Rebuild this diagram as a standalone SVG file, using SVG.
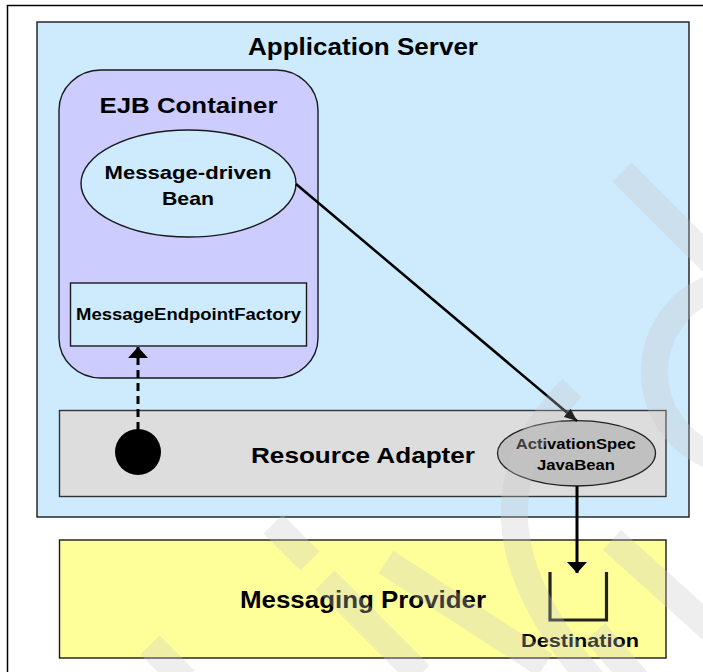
<svg xmlns="http://www.w3.org/2000/svg" width="703" height="672" viewBox="0 0 703 672">
<defs>
<style>
.t{font-family:"Liberation Sans",Arial,sans-serif;font-weight:bold;fill:#000;text-anchor:middle}
.box{stroke:#1a1a1a;stroke-width:1.4}
.wm{fill:none;stroke:#c8c8c8;stroke-opacity:0.3;stroke-width:27}
</style>
<marker id="ah" viewBox="0 0 12 10" refX="12" refY="5" markerWidth="13" markerHeight="11" markerUnits="userSpaceOnUse" orient="auto">
<path d="M0,0 L12,5 L0,10 z" fill="#222"/>
</marker>
<marker id="ah2" viewBox="0 0 11 20" refX="11" refY="10" markerWidth="11" markerHeight="20" markerUnits="userSpaceOnUse" orient="auto">
<path d="M0,0 L11,10 L0,20 z" fill="#000"/>
</marker>
</defs>
<rect x="0" y="0" width="703" height="672" fill="#fff"/>
<rect x="7.5" y="5.5" width="720" height="700" fill="none" stroke="#000" stroke-width="1.5"/>

<g id="app-server">
<rect class="box" x="37" y="22" width="652" height="495" fill="#cdebfd"/>
<text class="t" x="363" y="55" font-size="24.5" textLength="230" lengthAdjust="spacingAndGlyphs">Application Server</text>
</g>

<g id="ejb-container">
<rect class="box" x="59" y="70" width="259" height="308" rx="42" ry="40" fill="#ccccff"/>
<text class="t" x="188.5" y="113" font-size="22.5" textLength="178" lengthAdjust="spacingAndGlyphs">EJB Container</text>
</g>

<g id="mdb">
<ellipse class="box" cx="188.5" cy="183.5" rx="107.5" ry="53.5" fill="#cdebfd"/>
<text class="t" x="188" y="179" font-size="19" textLength="167" lengthAdjust="spacingAndGlyphs">Message-driven</text>
<text class="t" x="188" y="205" font-size="19" textLength="52" lengthAdjust="spacingAndGlyphs">Bean</text>
</g>

<g id="endpoint-factory">
<rect class="box" x="70.5" y="283" width="236" height="63" fill="#cdebfd"/>
<text class="t" x="188.5" y="320" font-size="16" textLength="225" lengthAdjust="spacingAndGlyphs">MessageEndpointFactory</text>
</g>

<g id="resource-adapter">
<rect x="59.5" y="410.5" width="606.5" height="86" fill="#dddddd" stroke="#333" stroke-width="1.4"/>
<text class="t" x="363" y="463" font-size="22.5" textLength="224" lengthAdjust="spacingAndGlyphs">Resource Adapter</text>
</g>

<g id="endpoint-dot">
<circle cx="138" cy="452" r="23" fill="#000"/>
</g>

<g id="activation-spec">
<ellipse cx="576.5" cy="453.3" rx="79" ry="32.7" fill="#c0c0c0" stroke="#222" stroke-width="1.3"/>
<text class="t" x="575.7" y="449.3" font-size="14.5" textLength="120" lengthAdjust="spacingAndGlyphs">ActivationSpec</text>
<text class="t" x="576" y="470" font-size="14.5" textLength="78" lengthAdjust="spacingAndGlyphs">JavaBean</text>
</g>

<g id="messaging-provider">
<rect class="box" x="59.5" y="540" width="606.5" height="118" fill="#ffff99"/>
<text class="t" x="363" y="608" font-size="23.5" textLength="246" lengthAdjust="spacingAndGlyphs">Messaging Provider</text>
</g>

<g id="destination">
<path d="M550,572 V620 H606.5 V572" fill="none" stroke="#222" stroke-width="3.2"/>
<text class="t" x="580" y="647" font-size="18.5" textLength="118" lengthAdjust="spacingAndGlyphs">Destination</text>
</g>

<g id="connectors">
<line x1="138" y1="430" x2="138" y2="347" stroke="#000" stroke-width="3" stroke-dasharray="8,5" marker-end="url(#ah2)"/>
<line x1="296" y1="184" x2="577" y2="421" stroke="#000" stroke-width="2.5" marker-end="url(#ah)"/>
<line x1="577" y1="486" x2="577" y2="573" stroke="#000" stroke-width="3" marker-end="url(#ah2)"/>
</g>

<g id="watermark">
<line class="wm" x1="622" y1="172" x2="712" y2="262"/>
<path class="wm" d="M712,288 A90,90 0 0 0 712,456" stroke-width="35"/>
<path class="wm" d="M572,388 Q440,520 610,700"/>
<line class="wm" x1="612" y1="540" x2="712" y2="630"/>
<line class="wm" x1="273" y1="524" x2="310" y2="561"/>
<line class="wm" x1="386" y1="562" x2="545" y2="665"/>
<line class="wm" x1="325" y1="580" x2="420" y2="675"/>
<line class="wm" x1="150" y1="645" x2="185" y2="680"/>
<line class="wm" x1="595" y1="632" x2="645" y2="690"/>
</g>
</svg>
